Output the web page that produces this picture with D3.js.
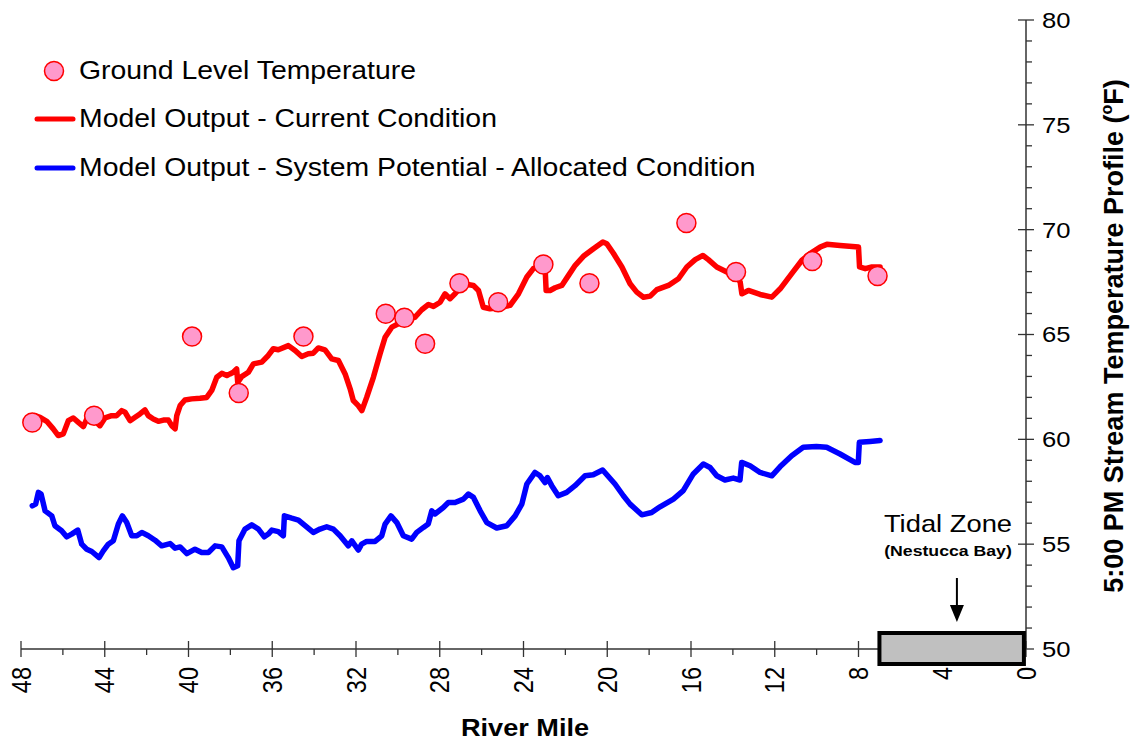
<!DOCTYPE html>
<html>
<head>
<meta charset="utf-8">
<script src="https://cdn.jsdelivr.net/npm/d3@7"></script>
<style>
  html, body { margin: 0; padding: 0; background: #fff; }
  svg { display: block; }
  text { font-family: "Liberation Sans", Arial, sans-serif; fill: #000; }
</style>
</head>
<body>
<svg id="chart" width="1131" height="740"></svg>
<script>
// ---------------- DATA ----------------
const xTickValues = [48, 44, 40, 36, 32, 28, 24, 20, 16, 12, 8, 4, 0];
const yTickValues = [50, 55, 60, 65, 70, 75, 80];

const legendLabels = [
  "Ground Level Temperature",
  "Model Output - Current Condition",
  "Model Output - System Potential - Allocated Condition"
];

// Ground level temperature observations
const obsMiles = [47.46, 44.51, 39.83, 37.60, 34.51, 30.58, 29.69, 28.70, 27.06, 25.21, 23.05, 20.85, 16.22, 13.85, 10.21, 7.09];
const obsTemps = [60.80, 61.13, 64.90, 62.21, 64.90, 65.99, 65.80, 64.56, 67.45, 66.54, 68.34, 67.45, 70.32, 67.98, 68.50, 67.79];

// Model output - current condition
const currentMiles = [47.33,47.09,46.77,46.46,46.22,45.98,45.74,45.50,45.26,45.02,44.86,44.55,44.23,43.99,43.67,43.43,43.19,43.03,42.79,42.55,42.32,42.08,41.92,41.68,41.44,41.20,40.96,40.80,40.64,40.56,40.40,40.17,39.85,39.45,39.13,38.89,38.65,38.41,38.17,38.02,37.86,37.70,37.65,37.46,37.14,36.90,36.50,36.19,35.95,35.71,35.23,34.91,34.59,34.28,34.04,33.80,33.48,33.16,32.84,32.52,32.28,32.13,31.89,31.72,31.49,31.17,30.85,30.61,30.29,29.98,29.58,29.18,28.86,28.54,28.30,27.98,27.75,27.51,27.27,26.87,26.39,26.15,25.92,25.60,25.20,24.64,24.24,23.84,23.53,23.13,22.97,22.92,22.73,22.49,22.17,21.85,21.53,21.14,20.66,20.21,20.02,19.70,19.30,18.91,18.59,18.27,17.95,17.63,17.08,16.60,16.20,15.80,15.43,15.17,14.77,14.29,13.81,13.65,13.57,13.26,12.70,12.14,11.74,11.19,10.71,10.31,9.83,9.51,8.88,8.00,7.95,7.68,7.36,6.97];
const currentTemps = [61.13,61.05,60.86,60.50,60.18,60.26,60.89,61.02,60.81,60.61,60.97,60.97,60.65,61.02,61.13,61.13,61.37,61.29,60.89,61.05,61.21,61.40,61.13,60.97,60.86,60.92,60.92,60.65,60.50,61.13,61.61,61.88,61.93,61.96,62.00,62.33,62.96,63.15,63.04,63.12,63.20,63.36,62.72,62.99,63.20,63.60,63.68,64.00,64.32,64.27,64.47,64.24,63.95,64.08,64.11,64.36,64.27,63.84,63.76,63.12,62.41,61.85,61.61,61.37,62.00,62.96,64.08,64.87,65.35,65.51,65.67,65.83,66.18,66.43,66.34,66.54,66.94,66.71,66.94,67.42,67.34,67.10,66.30,66.23,66.28,66.39,66.94,67.74,68.14,68.30,68.22,67.10,67.10,67.23,67.34,67.82,68.30,68.73,69.09,69.41,69.33,68.86,68.22,67.42,67.02,66.78,66.83,67.14,67.34,67.66,68.22,68.57,68.77,68.57,68.22,67.98,67.74,67.50,66.94,67.10,66.91,66.78,67.18,67.90,68.53,68.86,69.17,69.30,69.25,69.17,68.22,68.14,68.22,68.22];

// Model output - system potential - allocated condition
const potentialMiles = [47.46,47.30,47.17,47.04,46.85,46.53,46.38,46.06,45.82,45.58,45.29,45.10,44.86,44.62,44.27,44.07,43.83,43.59,43.35,43.16,42.95,42.71,42.47,42.23,41.92,41.60,41.28,40.88,40.64,40.40,40.08,39.69,39.37,39.05,38.73,38.41,38.10,37.86,37.65,37.59,37.30,36.98,36.66,36.38,36.19,36.02,35.71,35.47,35.42,35.07,34.75,34.43,34.04,33.72,33.40,33.08,32.76,32.37,32.20,31.89,31.73,31.49,31.09,30.77,30.61,30.33,30.05,29.74,29.34,29.10,28.78,28.55,28.38,28.23,27.83,27.59,27.27,26.87,26.63,26.39,26.07,25.75,25.28,24.80,24.40,24.08,23.84,23.45,23.21,22.97,22.86,22.65,22.34,21.94,21.54,21.06,20.67,20.22,19.63,19.23,18.91,18.35,17.88,17.48,16.84,16.37,15.89,15.41,15.09,14.77,14.38,13.98,13.66,13.58,13.18,12.70,12.14,11.75,11.19,10.64,10.01,9.52,8.88,8.17,8.01,7.96,7.45,6.97];
const potentialTemps = [56.83,56.91,57.47,57.39,56.59,56.35,55.88,55.64,55.35,55.48,55.67,55.00,54.76,54.65,54.36,54.68,55.00,55.16,55.96,56.35,56.03,55.40,55.40,55.56,55.40,55.19,54.92,55.03,54.81,54.87,54.55,54.76,54.60,54.60,54.92,54.87,54.36,53.88,53.97,55.16,55.72,55.92,55.72,55.35,55.48,55.67,55.60,55.40,56.35,56.24,56.15,55.88,55.56,55.72,55.83,55.72,55.40,54.92,55.16,54.72,55.00,55.13,55.13,55.40,55.96,56.35,56.03,55.40,55.24,55.56,55.80,55.96,56.59,56.44,56.75,56.99,56.99,57.15,57.39,57.23,56.59,56.03,55.77,55.88,56.35,56.91,57.87,58.42,58.26,57.94,58.18,57.79,57.31,57.47,57.79,58.26,58.31,58.54,57.87,57.31,56.91,56.40,56.51,56.78,57.15,57.55,58.35,58.82,58.66,58.26,58.06,58.15,58.06,58.90,58.74,58.42,58.26,58.69,59.22,59.62,59.66,59.62,59.30,58.90,58.90,59.86,59.90,59.94];

// Tidal zone extent (river miles)
const tidalFrom = 7.0, tidalTo = 0.1, tidalArrowMile = 3.3;

// ---------------- LAYOUT ----------------
const SX = 1.14; // horizontal text stretch seen in the reference
const svg = d3.select("#chart");
const x = d3.scaleLinear().domain([48, 0]).range([21, 1026]);
const y = d3.scaleLinear().domain([50, 80]).range([649, 20]);

function label(parent, px, py, str, opt = {}) {
  const g = parent.append("g")
    .attr("transform", `translate(${px},${py}) scale(${SX},1)` + (opt.rotate ? ` rotate(${opt.rotate})` : ""));
  const t = g.append("text")
    .attr("font-size", opt.size || 22)
    .attr("font-weight", opt.bold ? "bold" : "normal")
    .attr("text-anchor", opt.anchor || "start")
    .attr("dominant-baseline", opt.baseline || "auto")
    .text(str);
  return t;
}

const axisColor = "#333";

// ---- Right Y axis ----
const yAxisG = svg.append("g");
yAxisG.append("line").attr("x1", x(0)).attr("x2", x(0)).attr("y1", y(80)).attr("y2", y(50))
  .attr("stroke", axisColor).attr("stroke-width", 1.5);
d3.range(50, 81, 1).forEach(v => {
  const major = v % 5 === 0;
  yAxisG.append("line")
    .attr("x1", major ? x(0) - 8 : x(0)).attr("x2", x(0) + (major ? 8 : 6))
    .attr("y1", y(v)).attr("y2", y(v))
    .attr("stroke", axisColor).attr("stroke-width", 1.3);
});
yTickValues.forEach(v => label(yAxisG, x(0) + 16, y(v), String(v), { size: 22.5, baseline: "central" }));

// ---- Bottom X axis ----
const xAxisG = svg.append("g");
xAxisG.append("line").attr("x1", x(48)).attr("x2", x(0)).attr("y1", y(50)).attr("y2", y(50))
  .attr("stroke", axisColor).attr("stroke-width", 1.5);
d3.range(0, 49, 2).forEach(v => {
  const major = v % 4 === 0;
  xAxisG.append("line")
    .attr("x1", x(v)).attr("x2", x(v))
    .attr("y1", major ? y(50) - 8 : y(50)).attr("y2", y(50) + (major ? 8 : 6))
    .attr("stroke", axisColor).attr("stroke-width", 1.3);
});
xTickValues.forEach(v => label(xAxisG, x(v), y(50) + 18, String(v), { size: 23.5, rotate: -90, anchor: "end", baseline: "central" }));

label(svg, 525, 736, "River Mile", { size: 23.8, bold: true, anchor: "middle" });

// right axis title with superscript (slightly condensed, fully inside the frame)
{
  const g = svg.append("g").attr("transform", `translate(1123,336) scale(1.0,1) rotate(-90)`);
  const t = g.append("text").attr("font-size", 27).attr("font-weight", "bold").attr("text-anchor", "middle");
  t.append("tspan").text("5:00 PM Stream Temperature Profile (");
  t.append("tspan").attr("font-size", 16).attr("dy", -11).text("o");
  t.append("tspan").attr("dy", 11).text("F)");
}

// ---- Tidal zone ----
svg.append("rect")
  .attr("x", x(tidalFrom)).attr("y", y(50) - 16)
  .attr("width", x(tidalTo) - x(tidalFrom)).attr("height", 31)
  .attr("fill", "#c0c0c0").attr("stroke", "#000").attr("stroke-width", 4);
svg.append("line").attr("x1", x(tidalArrowMile)).attr("x2", x(tidalArrowMile))
  .attr("y1", 578).attr("y2", 608).attr("stroke", "#000").attr("stroke-width", 2);
svg.append("path")
  .attr("d", `M${x(tidalArrowMile) - 7},605 L${x(tidalArrowMile) + 7},605 L${x(tidalArrowMile)},622 Z`)
  .attr("fill", "#000");
label(svg, 948, 532, "Tidal Zone", { size: 24, anchor: "middle" });
label(svg, 948, 556, "(Nestucca Bay)", { size: 15.5, bold: true, anchor: "middle" });

// ---- Lines ----
const line = d3.line().x(d => x(d[0])).y(d => y(d[1]));
const currentData = currentMiles.map((m, i) => [m, currentTemps[i]]);
const potentialData = potentialMiles.map((m, i) => [m, potentialTemps[i]]);

svg.append("path").datum(potentialData).attr("d", line)
  .attr("fill", "none").attr("stroke", "#0000ff").attr("stroke-width", 5.5)
  .attr("stroke-linejoin", "round").attr("stroke-linecap", "round");
svg.append("path").datum(currentData).attr("d", line)
  .attr("fill", "none").attr("stroke", "#ff0000").attr("stroke-width", 5.5)
  .attr("stroke-linejoin", "round").attr("stroke-linecap", "round");

// ---- Observations ----
svg.append("g").selectAll("circle").data(obsMiles.map((m, i) => [m, obsTemps[i]])).join("circle")
  .attr("cx", d => x(d[0])).attr("cy", d => y(d[1])).attr("r", 9.5)
  .attr("fill", "#ff99cc").attr("stroke", "#ff0000").attr("stroke-width", 1.5);

// ---- Legend ----
const lg = svg.append("g");
lg.append("circle").attr("cx", 54).attr("cy", 71).attr("r", 9.5)
  .attr("fill", "#ff99cc").attr("stroke", "#ff0000").attr("stroke-width", 1.5);
lg.append("line").attr("x1", 37).attr("x2", 73).attr("y1", 119).attr("y2", 119)
  .attr("stroke", "#ff0000").attr("stroke-width", 5).attr("stroke-linecap", "round");
lg.append("line").attr("x1", 37).attr("x2", 73).attr("y1", 168).attr("y2", 168)
  .attr("stroke", "#0000ff").attr("stroke-width", 5).attr("stroke-linecap", "round");
[71, 119, 168].forEach((yy, i) => label(lg, 79, yy, legendLabels[i], { size: 24.9, baseline: "central" }));
</script>
</body>
</html>
